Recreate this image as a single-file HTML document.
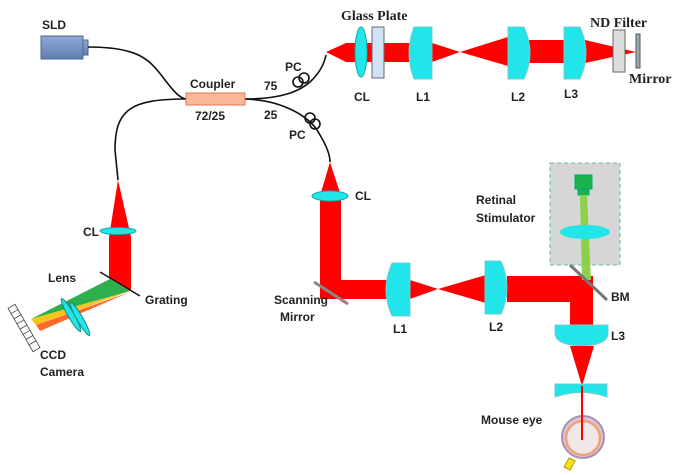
<!DOCTYPE html>
<html><head><meta charset="utf-8"><style>
body{margin:0;background:#fff}
svg{display:block}
text{font-family:"Liberation Sans",sans-serif;font-weight:bold;font-size:12px;fill:#222}
.s{font-family:"Liberation Serif",serif;font-size:14px}
</style></head><body>
<svg width="682" height="475" viewBox="0 0 682 475">
<defs>
<linearGradient id="sld" x1="0" y1="0" x2="0" y2="1"><stop offset="0" stop-color="#8fa9d3"/><stop offset="1" stop-color="#5f7fb3"/></linearGradient>
</defs>
<!-- SLD -->
<rect x="41" y="36" width="42" height="23" fill="url(#sld)" stroke="#4a6696"/>
<rect x="83" y="40" width="5" height="15" fill="url(#sld)" stroke="#4a6696"/>
<text x="42" y="29">SLD</text>
<!-- fibers -->
<g fill="none" stroke="#111" stroke-width="1.6">
<path d="M88,47 C140,47 150,60 165,80 C175,93 180,98 186,99"/>
<path d="M186,99 C130,99 115,110 115,150 L118,180"/>
<path d="M245,99 C280,99 300,92 312,80 C322,70 325,60 326,55"/>
<path d="M245,99 C280,100 310,115 320,135 C326,145 330,155 330,162"/>
<circle cx="298" cy="82" r="5"/><circle cx="304" cy="78" r="5"/>
<circle cx="310" cy="118" r="5"/><circle cx="315" cy="124" r="5"/>
</g>
<rect x="186" y="93" width="59" height="12" fill="#f9b79a" stroke="#e07a55"/>
<text x="190" y="88">Coupler</text>
<text x="195" y="120">72/25</text>
<text x="264" y="90">75</text>
<text x="264" y="119">25</text>
<text x="285" y="71">PC</text>
<text x="289" y="139">PC</text>
<!-- Reference arm -->
<g fill="#ff0000">
<polygon points="326,52 346,43 346,62"/>
<rect x="346" y="43" width="64" height="19"/>
<polygon points="432,43 460,52 432,62"/>
<polygon points="460,52 508,37 508,66"/>
<rect x="508" y="40" width="60" height="23"/>
<polygon points="585,40 636,52 585,63"/>
</g>
<ellipse cx="361" cy="52" rx="6" ry="25" fill="#22e5ea" stroke="#1aa"/>
<rect x="372" y="27" width="12" height="51" fill="#cfe3f5" stroke="#667"/>
<path d="M414,27 L432,27 L432,79 L414,79 Q404,53 414,27Z" fill="#22e5ea" stroke="#7cc"/>
<path d="M508,37 Q526,52 508,67" fill="none"/>
<path d="M508,27 L524,27 Q536,53 524,79 L508,79Z" fill="#22e5ea" stroke="#7cc"/>
<path d="M564,27 L580,27 Q592,53 580,79 L564,79Z" fill="#22e5ea" stroke="#7cc"/>
<rect x="613" y="30" width="12" height="42" fill="#ddd" stroke="#666"/>
<rect x="636" y="34" width="4" height="34" fill="#9aa" stroke="#556"/>
<text class="s" x="341" y="20">Glass Plate</text>
<text class="s" x="590" y="27">ND Filter</text>
<text class="s" x="629" y="83">Mirror</text>
<text x="354" y="101">CL</text>
<text x="416" y="101">L1</text>
<text x="511" y="101">L2</text>
<text x="564" y="98">L3</text>
<!-- detection arm -->
<polygon points="118,180 109,237 131,237" fill="#f00"/>
<polygon points="109,237 131,237 131,290 109,278" fill="#f00"/>
<ellipse cx="118" cy="231" rx="18" ry="3.5" fill="#22e5ea" stroke="#1aa"/>
<text x="83" y="236">CL</text>
<polygon points="110,279 130,291 31,319" fill="#2fae4e"/>
<polygon points="130,291 31,319 36,325" fill="#f5c518"/>
<polygon points="130,292 36,325 40,331" fill="#ff6a2a"/>
<line x1="100" y1="272" x2="140" y2="296" stroke="#111" stroke-width="1.5"/>
<ellipse cx="71" cy="315" rx="3" ry="19" transform="rotate(-30 71 315)" fill="#22e5ea" stroke="#188"/>
<ellipse cx="80" cy="319" rx="3" ry="19" transform="rotate(-30 80 319)" fill="#22e5ea" stroke="#188"/>
<g transform="rotate(-30 24 328)"><rect x="20" y="303" width="8" height="50" fill="#fff" stroke="#444" stroke-width="0.8"/>
<path d="M20,309h8M20,315h8M20,321h8M20,327h8M20,333h8M20,339h8M20,345h8" stroke="#444" stroke-width="0.8"/></g>
<text x="48" y="282">Lens</text>
<text x="145" y="304">Grating</text>
<text x="40" y="359">CCD</text>
<text x="40" y="376">Camera</text>
<!-- sample arm -->
<polygon points="330,162 320,196 341,196" fill="#f00"/>
<path d="M320,196 H341 V280 H390 V299 H320Z" fill="#f00"/>
<ellipse cx="330" cy="196" rx="18" ry="5" fill="#22e5ea" stroke="#1aa"/>
<text x="355" y="200">CL</text>
<line x1="314" y1="282" x2="348" y2="304" stroke="#888" stroke-width="3"/>
<text x="274" y="304">Scanning</text>
<text x="280" y="321">Mirror</text>
<polygon points="410,280 438,289 410,299" fill="#f00"/>
<polygon points="438,289 486,275 486,303" fill="#f00"/>
<path d="M507,276 H593 V325 H570 V302 H507Z" fill="#f00"/>
<path d="M392,263 L410,263 L410,316 L392,316 Q380,290 392,263Z" fill="#22e5ea" stroke="#7cc"/>
<path d="M485,261 L501,261 Q513,288 501,314 L485,314Z" fill="#22e5ea" stroke="#7cc"/>
<text x="393" y="333">L1</text>
<text x="489" y="331">L2</text>
<!-- stimulator -->
<rect x="550" y="163" width="70" height="102" fill="#d6d6d6" stroke="#6b9" stroke-dasharray="4,3"/>
<rect x="575" y="175" width="17" height="14" fill="#19b34a" stroke="#0a7"/>
<rect x="578" y="189" width="11" height="6" fill="#19b34a" stroke="#0a7"/>
<polygon points="580,195 587,195 591,280 582,280" fill="#8dd14a"/>
<ellipse cx="585" cy="232" rx="25" ry="7" fill="#22e5ea"/>
<text x="476" y="204">Retinal</text>
<text x="476" y="222">Stimulator</text>
<line x1="570" y1="265" x2="607" y2="300" stroke="#777" stroke-width="3"/>
<text x="611" y="301">BM</text>
<path d="M555,325 H608 V333 Q608,345 582,346 Q555,345 555,333Z" fill="#22e5ea" stroke="#7cc"/>
<text x="611" y="340">L3</text>
<polygon points="570,346 594,346 582,386" fill="#f00"/>
<path d="M555,384 H607 V397 Q582,388 555,397Z" fill="#22e5ea" stroke="#7cc"/>
<circle cx="583" cy="437" r="21" fill="#d9c7ce" stroke="#a98fb5" stroke-width="2"/>
<circle cx="583" cy="438" r="17" fill="#f0e8e8" stroke="#f3a07a" stroke-width="2.5"/>
<line x1="582" y1="386" x2="582" y2="440" stroke="#f00" stroke-width="2"/>
<polygon points="569,458 575,461 570,470 564,467" fill="#f7e21a" stroke="#b90"/>
<text x="481" y="424">Mouse eye</text>
</svg>
</body></html>
